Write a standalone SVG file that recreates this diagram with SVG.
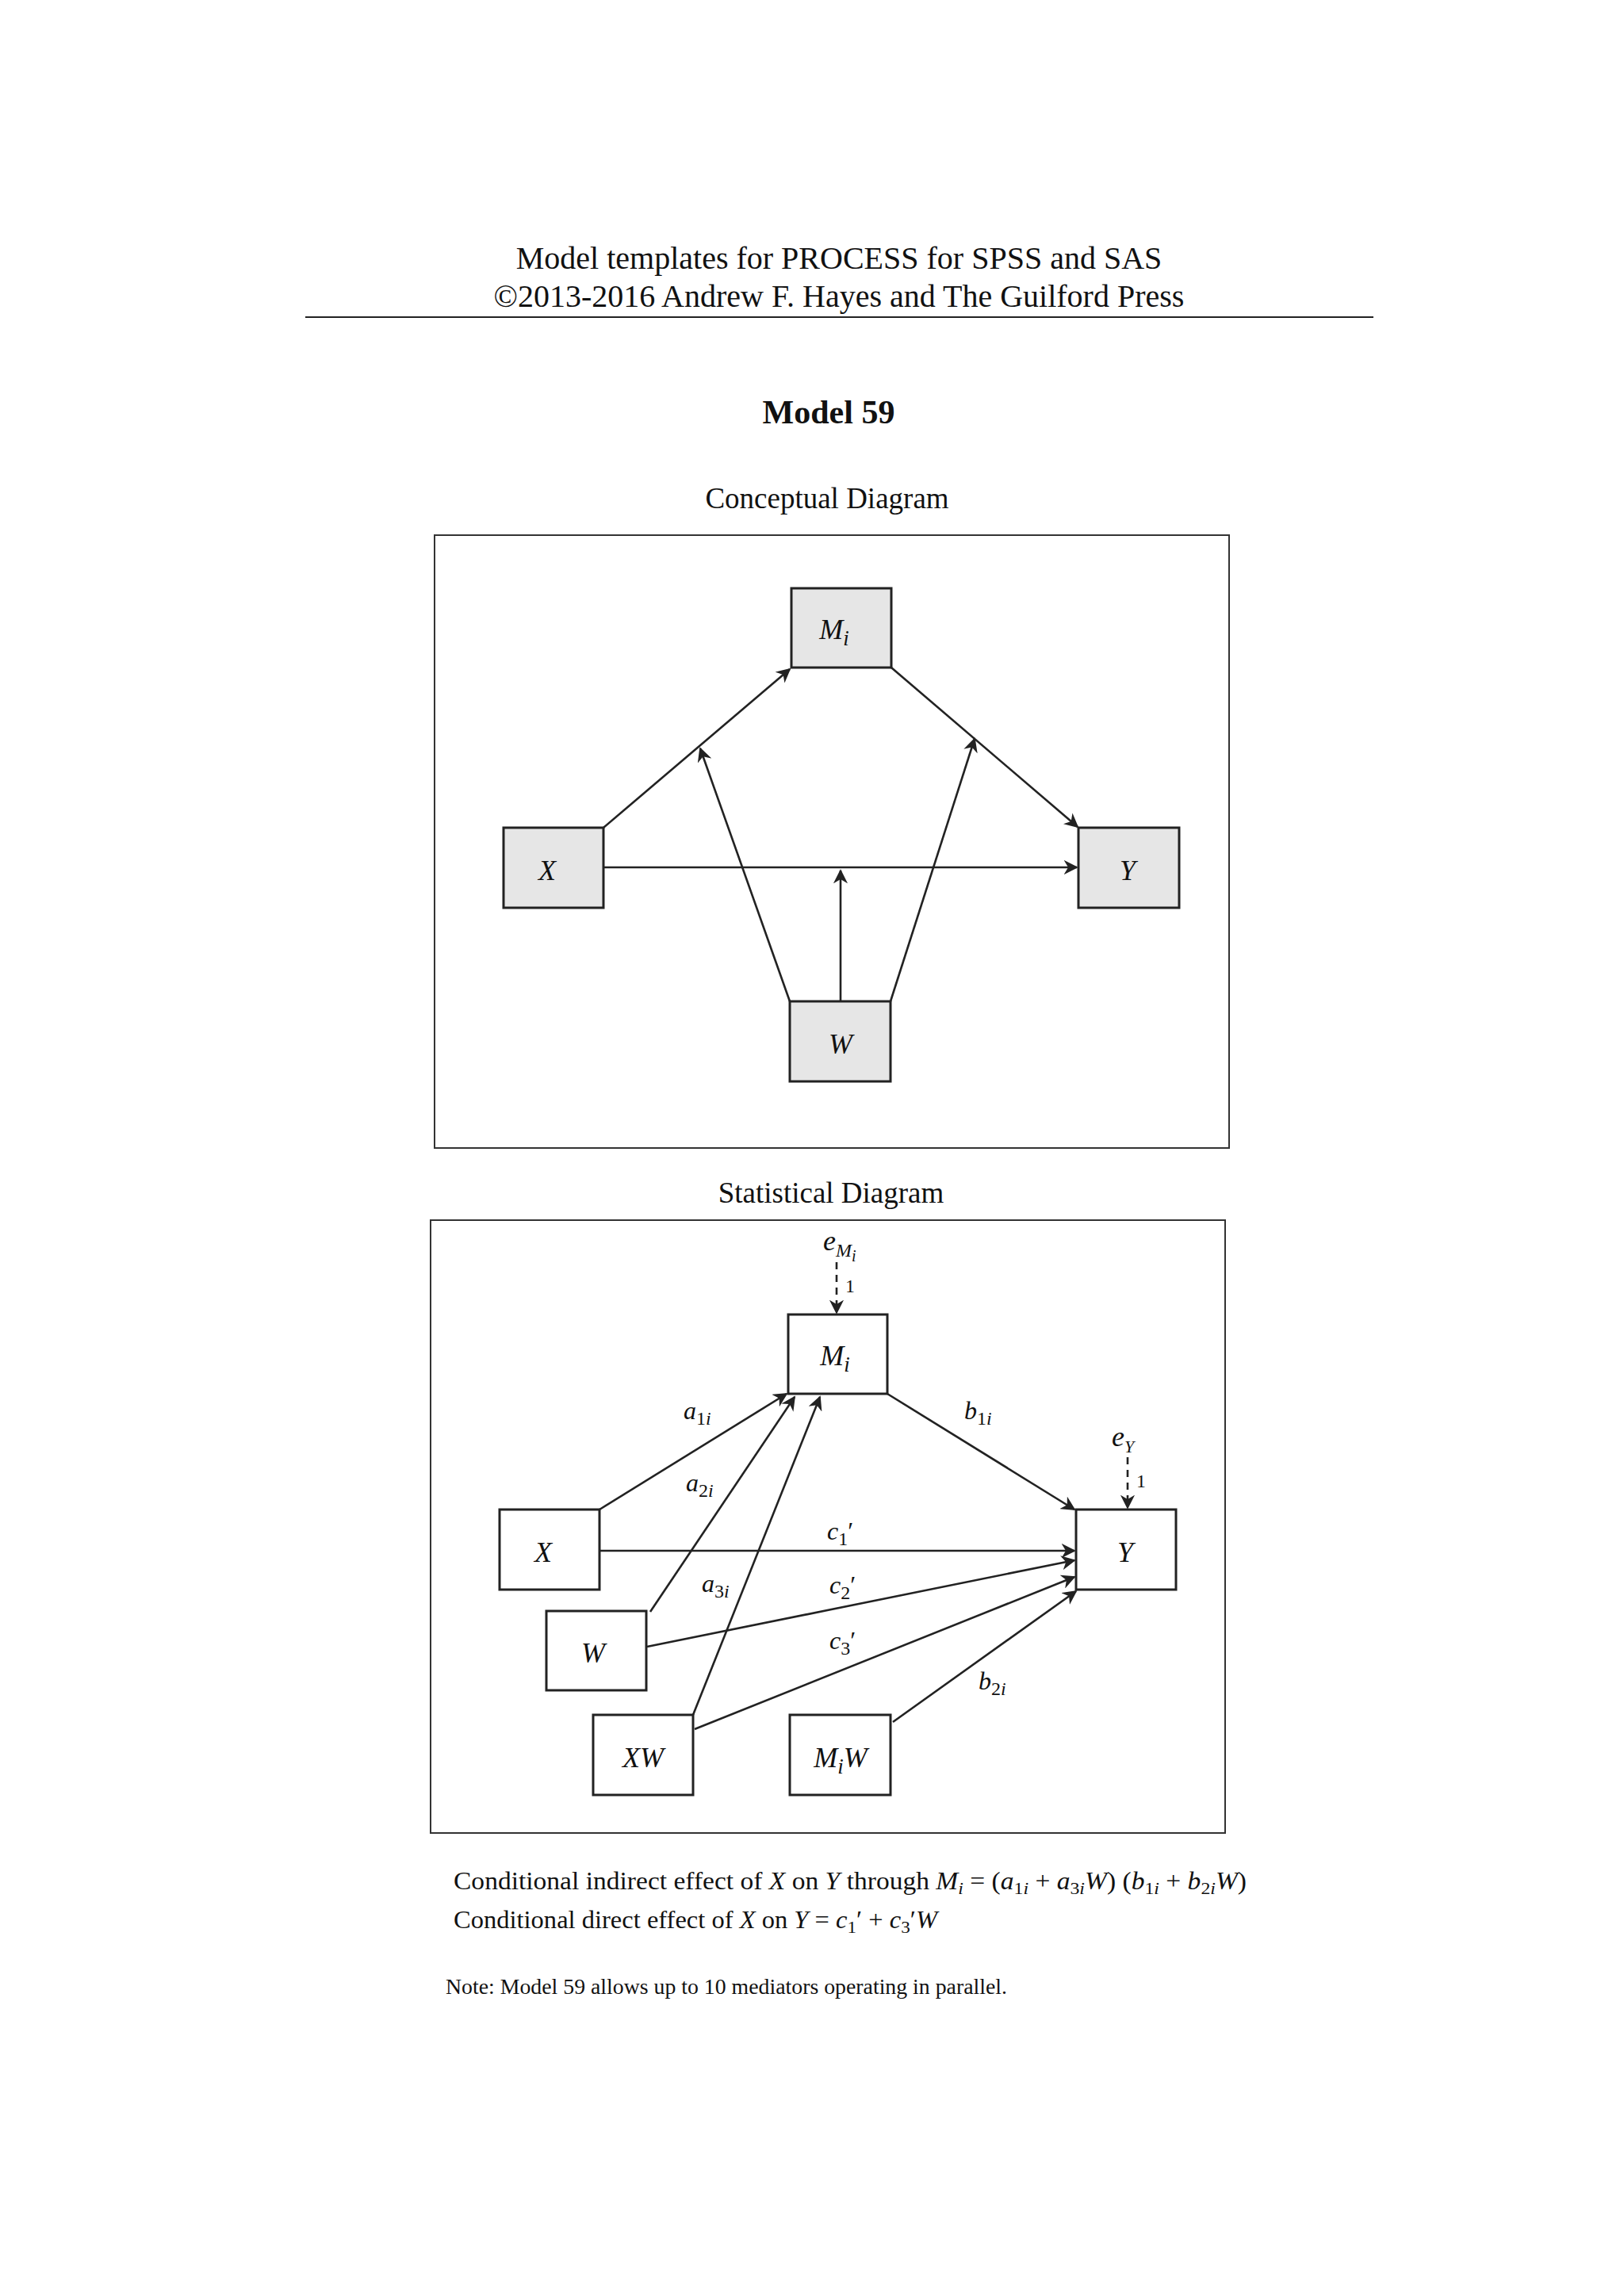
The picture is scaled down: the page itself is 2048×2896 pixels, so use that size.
<svg xmlns="http://www.w3.org/2000/svg" width="2048" height="2896" viewBox="0 0 2048 2896">
<style>
.t{font-family:"Liberation Serif",serif;fill:#111}
.i{font-style:italic}
.n{fill:#e6e6e6;stroke:#222;stroke-width:3}
.s{fill:#fff;stroke:#222;stroke-width:3}
.f{fill:none;stroke:#333;stroke-width:2}
.c{stroke:#222;stroke-width:2.6;fill:none;marker-end:url(#ah)}
.d{stroke:#222;stroke-width:2.6;fill:none;stroke-dasharray:9,7;marker-end:url(#ah)}
</style>
<defs><marker id="ah" viewBox="0 0 10 10" refX="9" refY="5" markerWidth="7" markerHeight="7" orient="auto" markerUnits="strokeWidth"><path d="M0,0 L10,5 L0,10 L3,5 z" fill="#222"/></marker></defs>
<rect width="2048" height="2896" fill="#fff"/>
<g id="header">
<text class="t" x="1058" y="339" font-size="40" text-anchor="middle">Model templates for PROCESS for SPSS and SAS</text>
<text class="t" x="1058" y="387" font-size="40" text-anchor="middle">©2013-2016 Andrew F. Hayes and The Guilford Press</text>
<line x1="385" y1="400" x2="1732" y2="400" stroke="#222" stroke-width="2"/>
<text class="t" x="1045" y="534" font-size="42" font-weight="bold" text-anchor="middle">Model 59</text>
<text class="t" x="1043" y="641" font-size="37" text-anchor="middle">Conceptual Diagram</text>
<text class="t" x="1048" y="1517" font-size="37" text-anchor="middle">Statistical Diagram</text>
</g>
<rect class="f" x="548" y="675" width="1002" height="773"/>
<rect class="f" x="543" y="1539" width="1002" height="773"/>
<g id="connectors">
<path class="c" d="M761,1044 L996,844"/>
<path class="c" d="M1124,842 L1359,1043"/>
<path class="c" d="M761,1094 L1358,1094"/>
<path class="c" d="M996,1263 L883,944"/>
<path class="c" d="M1123,1263 L1229,932"/>
<path class="c" d="M1060,1263 L1060,1098"/>
<path class="d" d="M1055,1592 L1055,1656"/>
<path class="d" d="M1422,1838 L1422,1902"/>
<path class="c" d="M756,1904 L992,1758"/>
<path class="c" d="M820,2033 L1002,1762"/>
<path class="c" d="M874,2163 L1034,1762"/>
<path class="c" d="M1119,1758 L1355,1904"/>
<path class="c" d="M756,1956 L1355,1956"/>
<path class="c" d="M816,2077 L1355,1968"/>
<path class="c" d="M876,2181 L1355,1989"/>
<path class="c" d="M1126,2172 L1357,2007"/>
</g>
<g id="c-M"><rect class="n" x="998" y="742" width="126" height="100"/><text class="t i" x="1052" y="806" font-size="36" text-anchor="middle">M<tspan font-size="27" dy="8">i</tspan></text></g>
<g id="c-X"><rect class="n" x="635" y="1044" width="126" height="101"/><text class="t i" x="690" y="1110" font-size="36" text-anchor="middle">X</text></g>
<g id="c-Y"><rect class="n" x="1360" y="1044" width="127" height="101"/><text class="t i" x="1422" y="1110" font-size="36" text-anchor="middle">Y</text></g>
<g id="c-W"><rect class="n" x="996" y="1263" width="127" height="101"/><text class="t i" x="1060" y="1329" font-size="36" text-anchor="middle">W</text></g>
<g id="s-M"><rect class="s" x="994" y="1658" width="125" height="100"/><text class="t i" x="1053" y="1722" font-size="36" text-anchor="middle">M<tspan font-size="27" dy="8">i</tspan></text></g>
<g id="s-X"><rect class="s" x="630" y="1904" width="126" height="101"/><text class="t i" x="685" y="1970" font-size="36" text-anchor="middle">X</text></g>
<g id="s-Y"><rect class="s" x="1357" y="1904" width="126" height="101"/><text class="t i" x="1419" y="1970" font-size="36" text-anchor="middle">Y</text></g>
<g id="s-W"><rect class="s" x="689" y="2032" width="126" height="100"/><text class="t i" x="748" y="2097" font-size="36" text-anchor="middle">W</text></g>
<g id="s-XW"><rect class="s" x="748" y="2163" width="126" height="101"/><text class="t i" x="811" y="2229" font-size="36" text-anchor="middle">XW</text></g>
<g id="s-MW"><rect class="s" x="996" y="2163" width="127" height="101"/><text class="t i" x="1060" y="2229" font-size="36" text-anchor="middle">M<tspan font-size="27" dy="8">i</tspan><tspan dy="-8">W</tspan></text></g>
<g id="labels" class="t" font-size="32">
<text class="i" x="1038" y="1577" font-size="36">e<tspan font-size="24" dy="8">M</tspan><tspan font-size="20" dy="6">i</tspan></text>
<text x="1066" y="1630" font-size="24">1</text>
<text class="i" x="1402" y="1824" font-size="36">e<tspan font-size="22" dy="8">Y</tspan></text>
<text x="1433" y="1876" font-size="24">1</text>
<text class="i" x="862" y="1790">a<tspan font-size="24" dy="7" font-style="normal">1</tspan><tspan font-size="24">i</tspan></text>
<text class="i" x="865" y="1881">a<tspan font-size="24" dy="7" font-style="normal">2</tspan><tspan font-size="24">i</tspan></text>
<text class="i" x="885" y="2008">a<tspan font-size="24" dy="7" font-style="normal">3</tspan><tspan font-size="24">i</tspan></text>
<text class="i" x="1216" y="1790">b<tspan font-size="24" dy="7" font-style="normal">1</tspan><tspan font-size="24">i</tspan></text>
<text class="i" x="1234" y="2131">b<tspan font-size="24" dy="7" font-style="normal">2</tspan><tspan font-size="24">i</tspan></text>
<text class="i" x="1043" y="1942">c<tspan font-size="24" dy="7" font-style="normal">1</tspan><tspan dy="-7" font-style="normal">′</tspan></text>
<text class="i" x="1046" y="2010">c<tspan font-size="24" dy="7" font-style="normal">2</tspan><tspan dy="-7" font-style="normal">′</tspan></text>
<text class="i" x="1046" y="2080">c<tspan font-size="24" dy="7" font-style="normal">3</tspan><tspan dy="-7" font-style="normal">′</tspan></text>
</g>
<g id="footer" class="t">
<text x="572" y="2383" font-size="31" textLength="1000" lengthAdjust="spacingAndGlyphs">Conditional indirect effect of <tspan class="i">X</tspan> on <tspan class="i">Y</tspan> through <tspan class="i">M<tspan font-size="22" dy="6">i</tspan></tspan><tspan dy="-6"> = (</tspan><tspan class="i">a</tspan><tspan font-size="22" dy="6">1</tspan><tspan font-size="22" class="i">i</tspan><tspan dy="-6"> + </tspan><tspan class="i">a</tspan><tspan font-size="22" dy="6">3</tspan><tspan font-size="22" class="i">i</tspan><tspan dy="-6" class="i">W</tspan>) (<tspan class="i">b</tspan><tspan font-size="22" dy="6">1</tspan><tspan font-size="22" class="i">i</tspan><tspan dy="-6"> + </tspan><tspan class="i">b</tspan><tspan font-size="22" dy="6">2</tspan><tspan font-size="22" class="i">i</tspan><tspan dy="-6" class="i">W</tspan>)</text>
<text x="572" y="2432" font-size="31" textLength="610" lengthAdjust="spacingAndGlyphs">Conditional direct effect of <tspan class="i">X</tspan> on <tspan class="i">Y</tspan> = <tspan class="i">c</tspan><tspan font-size="22" dy="6">1</tspan><tspan dy="-6">′ + </tspan><tspan class="i">c</tspan><tspan font-size="22" dy="6">3</tspan><tspan dy="-6">′</tspan><tspan class="i">W</tspan></text>
<text x="562" y="2515" font-size="27" textLength="708" lengthAdjust="spacingAndGlyphs">Note: Model 59 allows up to 10 mediators operating in parallel.</text>
</g>
</svg>
